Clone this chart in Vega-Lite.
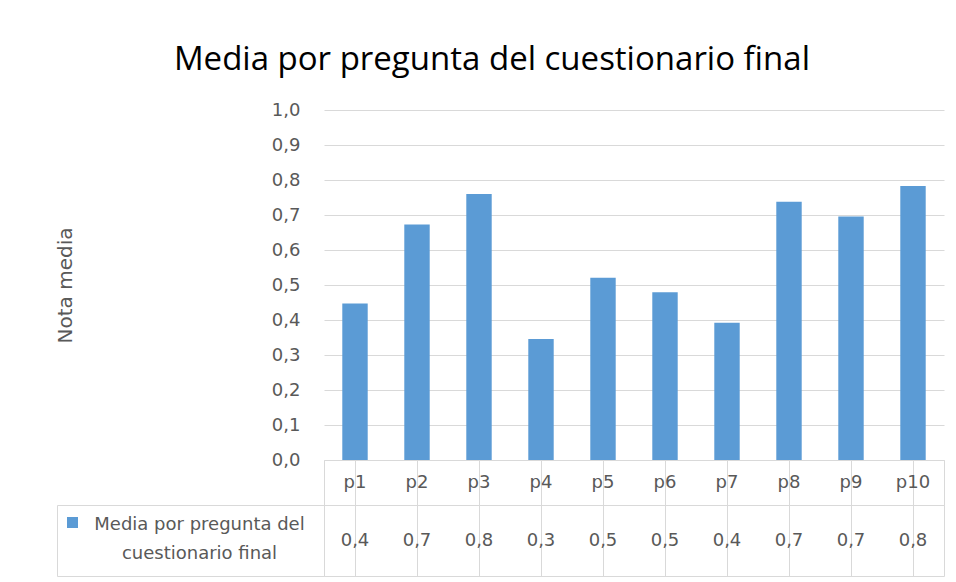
{
  "$schema": "https://vega.github.io/schema/vega-lite/v6.json",
  "background": "white",
  "padding": {"left": 55, "top": 44, "right": 10, "bottom": 4},
  "title": {
    "text": "Media por pregunta del cuestionario final",
    "font": "Open Sans",
    "fontSize": 33,
    "fontWeight": "normal",
    "color": "#000000",
    "anchor": "middle",
    "offset": 24,
    "dx": -8
  },
  "datasets": {
    "preguntas": [
      {"pregunta": "p1", "media": 0.447},
      {"pregunta": "p2", "media": 0.673},
      {"pregunta": "p3", "media": 0.760},
      {"pregunta": "p4", "media": 0.346},
      {"pregunta": "p5", "media": 0.521},
      {"pregunta": "p6", "media": 0.479},
      {"pregunta": "p7", "media": 0.392},
      {"pregunta": "p8", "media": 0.738},
      {"pregunta": "p9", "media": 0.696},
      {"pregunta": "p10", "media": 0.783}
    ],
    "serie": [
      {"serie": "Media por pregunta del\ncuestionario final"}
    ]
  },
  "spacing": 0,
  "bounds": "flush",
  "columns": 2,
  "align": "each",
  "concat": [
    {
      "width": 267,
      "height": 350,
      "data": {"values": []},
      "mark": "text",
      "encoding": {},
      "view": {"stroke": null}
    },
    {
      "width": 620,
      "height": 350,
      "data": {"name": "preguntas"},
      "mark": {"type": "bar", "color": "#5B9BD5", "width": {"band": 0.41}},
      "encoding": {
        "x": {
          "field": "pregunta",
          "type": "nominal",
          "sort": null,
          "scale": {"paddingInner": 0, "paddingOuter": 0},
          "axis": null
        },
        "y": {
          "field": "media",
          "type": "quantitative",
          "scale": {"domain": [0, 1]},
          "axis": {
            "title": "Nota media",
            "values": [0, 0.1, 0.2, 0.3, 0.4, 0.5, 0.6, 0.7, 0.8, 0.9, 1.0],
            "format": ".1f",
            "domain": false,
            "ticks": false,
            "labelPadding": 24,
            "titlePadding": 196,
            "grid": true,
            "gridColor": "#D9D9D9",
            "gridWidth": 1
          }
        }
      },
      "view": {"stroke": null}
    },
    {
      "width": 267,
      "height": 45,
      "data": {"values": []},
      "mark": "text",
      "encoding": {},
      "view": {"stroke": null}
    },
    {
      "width": 620,
      "height": 45,
      "data": {"name": "preguntas"},
      "mark": {"type": "text", "fontSize": 18, "color": "#595959", "font": "DejaVu Sans"},
      "encoding": {
        "x": {
          "field": "pregunta",
          "type": "nominal",
          "sort": null,
          "scale": {"paddingInner": 0, "paddingOuter": 0},
          "axis": {
            "title": null,
            "labels": false,
            "ticks": false,
            "domain": false,
            "grid": true,
            "bandPosition": 0,
            "gridColor": "#D9D9D9"
          }
        },
        "text": {"field": "pregunta", "type": "nominal"}
      },
      "view": {"stroke": "#D9D9D9"}
    },
    {
      "width": 267,
      "height": 71,
      "data": {"name": "serie"},
      "layer": [
        {
          "mark": {
            "type": "point",
            "shape": "square",
            "filled": true,
            "opacity": 1,
            "size": 121,
            "color": "#5B9BD5",
            "xOffset": -118,
            "yOffset": -18
          },
          "encoding": {}
        },
        {
          "mark": {
            "type": "text",
            "fontSize": 18,
            "color": "#595959",
            "font": "DejaVu Sans",
            "lineBreak": "\n",
            "lineHeight": 29,
            "dx": 9,
            "dy": -16
          },
          "encoding": {"text": {"field": "serie", "type": "nominal"}}
        }
      ],
      "view": {"stroke": "#D9D9D9"}
    },
    {
      "width": 620,
      "height": 71,
      "data": {"name": "preguntas"},
      "mark": {"type": "text", "fontSize": 18, "color": "#595959", "font": "DejaVu Sans"},
      "encoding": {
        "x": {
          "field": "pregunta",
          "type": "nominal",
          "sort": null,
          "scale": {"paddingInner": 0, "paddingOuter": 0},
          "axis": {
            "title": null,
            "labels": false,
            "ticks": false,
            "domain": false,
            "grid": true,
            "bandPosition": 0,
            "gridColor": "#D9D9D9"
          }
        },
        "text": {"field": "media", "type": "quantitative", "format": ".1f"}
      },
      "view": {"stroke": "#D9D9D9"}
    }
  ],
  "config": {
    "font": "DejaVu Sans",
    "axis": {
      "labelFont": "DejaVu Sans",
      "labelFontSize": 18,
      "labelColor": "#595959",
      "titleFont": "DejaVu Sans",
      "titleFontSize": 20,
      "titleFontWeight": "normal",
      "titleColor": "#595959"
    },
    "locale": {
      "number": {"decimal": ",", "thousands": ".", "grouping": [3], "currency": ["", " €"]}
    }
  }
}
